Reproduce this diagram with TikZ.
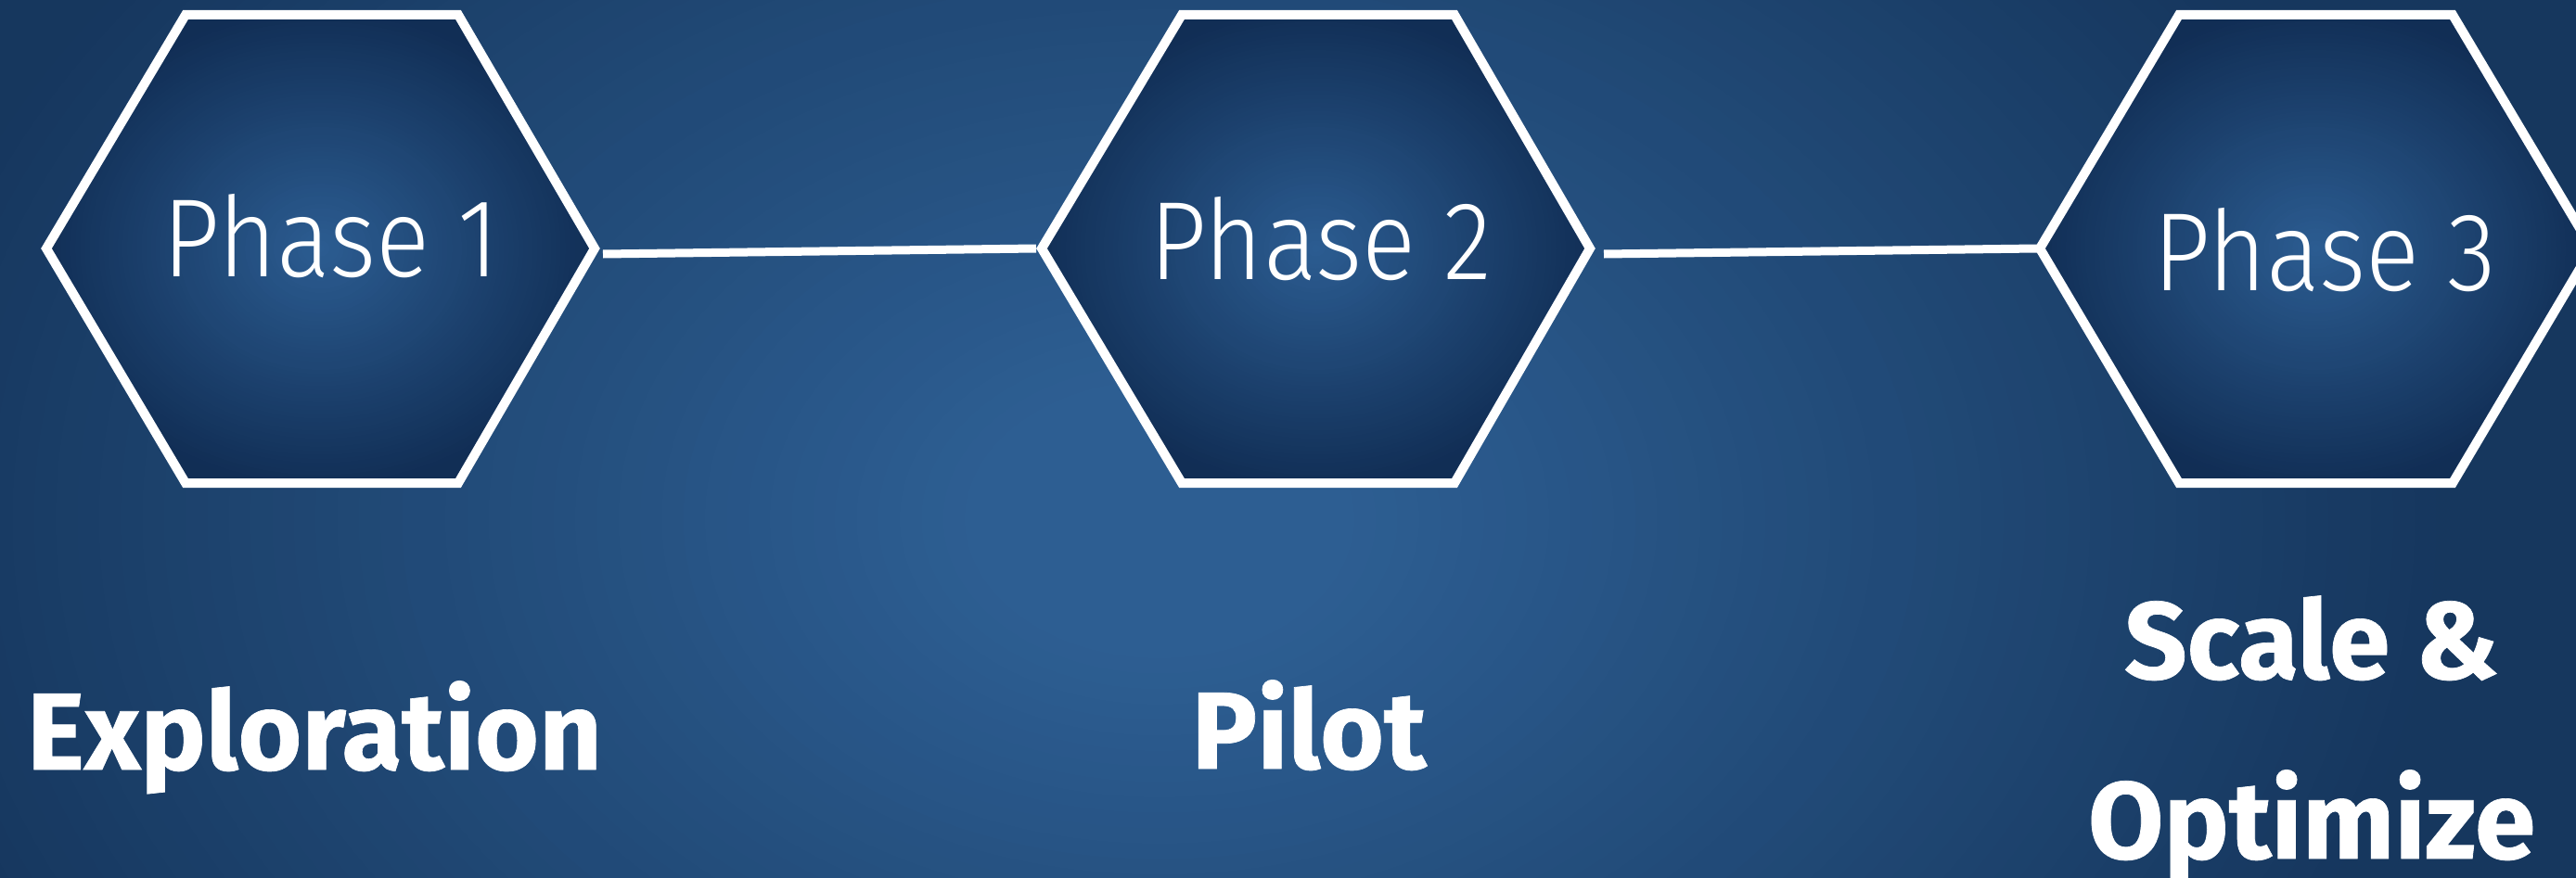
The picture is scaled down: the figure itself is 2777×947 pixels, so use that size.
\documentclass[tikz,border=0pt]{standalone}
\usepackage{fontspec}
\IfFontExistsTF{Fira Sans Light}
  {\newfontfamily\thinfont{Fira Sans Light}[FakeStretch=0.9]}
  {\IfFontExistsTF{Lato Light}
    {\newfontfamily\thinfont{Lato Light}[FakeStretch=0.9]}
    {\newfontfamily\thinfont{Fira Sans}[FakeStretch=0.9]}}
\newfontfamily\heavyfont{Fira Sans}[BoldFeatures={FakeBold=0.6}]
\definecolor{bgin}{HTML}{2D5E92}
\definecolor{bgout}{HTML}{16375E}
\definecolor{hxin}{HTML}{2C5D92}
\definecolor{hxout}{HTML}{112E55}
% concentric-ellipse radial gradient: cx, cy, rx, ry, inner, outer, flat fraction
\newcommand\myradial[7]{%
  \foreach \k in {0,...,59}{%
    \pgfmathsetmacro\ff{1-\k/60}%
    \pgfmathtruncatemacro\pp{min(100,max(0,100*(1-\ff)/(1-#7)))}%
    \fill[#5!\pp!#6] (#1,#2) ellipse [x radius=\ff*#3, y radius=\ff*#4];
  }}
\tikzset{
  hexline/.style={draw=white, line width=10pt, line join=miter},
  conn/.style={draw=white, line width=9pt},
  phase/.style={text=white, font=\thinfont\fontsize{120}{120}\selectfont, inner sep=0pt, anchor=base},
  title/.style={text=white, font=\heavyfont\bfseries\fontsize{118}{194}\selectfont, inner sep=0pt, anchor=base, align=center},
}
\begin{document}
\begin{tikzpicture}[x=1pt, y=-1pt]
\useasboundingbox (0,0) rectangle (2777,947);
\begin{scope}
  \clip (0,0) rectangle (2777,947);
  \fill[bgout] (0,0) rectangle (2777,947);
  \myradial{1250}{560}{1400}{1000}{bgin}{bgout}{0.15}
\end{scope}
% hexagons
\foreach \l/\a/\b/\r in {50/200/494/641, 1123/1274/1568/1714, 2199/2349/2644/2794}{
  \begin{scope}
    \clip (\l,268) -- (\a,16) -- (\b,16) -- (\r,268) -- (\b,521) -- (\a,521) -- cycle;
    \pgfmathsetmacro\hc{(\l+\r)/2}
    \fill[hxout] (\l,0) rectangle (\r,540);
    \myradial{\hc}{268}{305}{262}{hxin}{hxout}{0.0}
  \end{scope}
  \path[hexline] (\l,268) -- (\a,16) -- (\b,16) -- (\r,268) -- (\b,521) -- (\a,521) -- cycle;
}
% connector end points
\coordinate (c1s) at (650,274);
\coordinate (c1e) at (1117,268);
\coordinate (c2s) at (1729,274);
\coordinate (c2e) at (2196,268);
\draw[conn] (c1s) -- (c1e);
\draw[conn] (c2s) -- (c2e);
% phase labels
\node[phase] (p1) at (357,298) {Phase 1};
\node[phase] (p2) at (1424,301) {Phase 2};
\node[phase] (p3) at (2506,313) {Phase 3};
% titles
\node[title] (t1) at (339,830) {Exploration};
\node[title] (t2) at (1411,829) {Pilot};
\node[title] (t3) at (2492,926) {Scale \&\\Optimize};
\end{tikzpicture}
\end{document}
